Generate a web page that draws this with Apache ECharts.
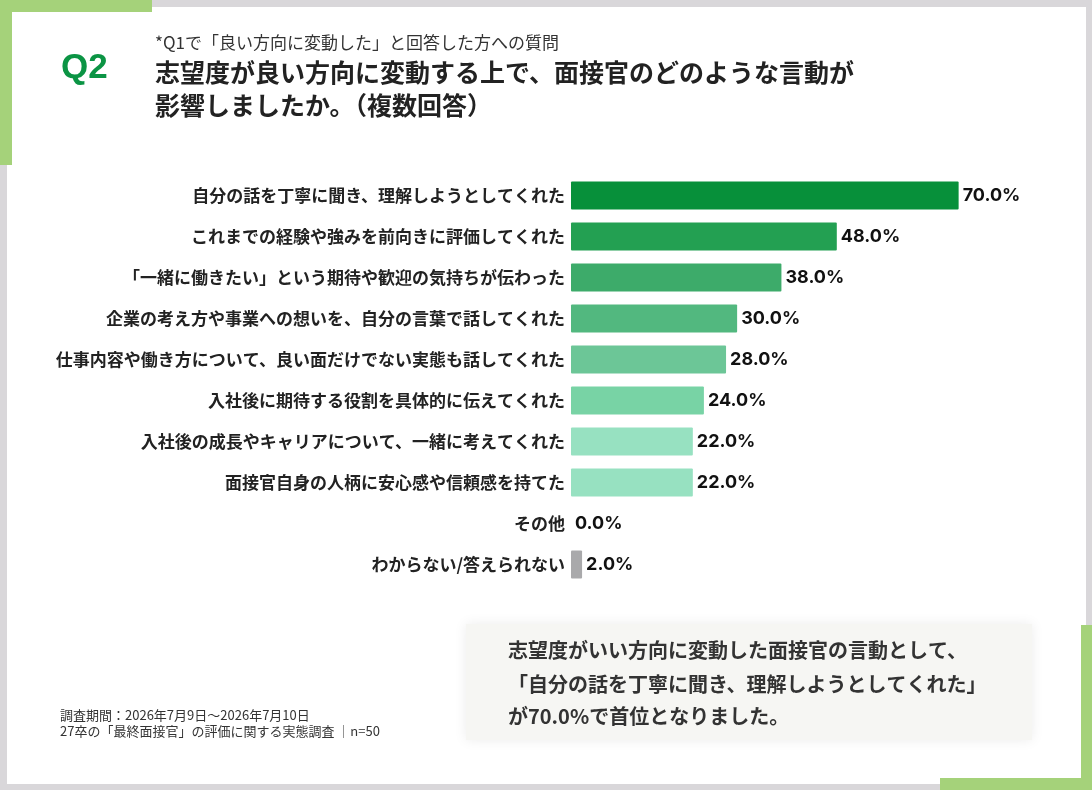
<!DOCTYPE html>
<html>
<head>
<meta charset="utf-8">
<script src="https://cdn.jsdelivr.net/npm/echarts@6/dist/echarts.min.js"></script>
<style>
  html, body { margin: 0; padding: 0; background: #fff; }
  #main { width: 1092px; height: 790px; }
</style>
</head>
<body>
<div id="main"></div>
<script>
// 回答項目
var categories = [
  '自分の話を丁寧に聞き、理解しようとしてくれた',
  'これまでの経験や強みを前向きに評価してくれた',
  '「一緒に働きたい」という期待や歓迎の気持ちが伝わった',
  '企業の考え方や事業への想いを、自分の言葉で話してくれた',
  '仕事内容や働き方について、良い面だけでない実態も話してくれた',
  '入社後に期待する役割を具体的に伝えてくれた',
  '入社後の成長やキャリアについて、一緒に考えてくれた',
  '面接官自身の人柄に安心感や信頼感を持てた',
  'その他',
  'わからない/答えられない'
];
// 割合(%)
var values = [70.0, 48.0, 38.0, 30.0, 28.0, 24.0, 22.0, 22.0, 0.0, 2.0];
// バーの色
var barColors = ['#07903a', '#23a052', '#3dab6a', '#52b87f', '#6cc697', '#78d3a5', '#97e1c1', '#97e1c1', '#97e1c1', '#a9a9ab'];

var CJK = '"Noto Sans CJK JP", sans-serif';

var myChart = echarts.init(document.getElementById('main'));

var option = {
  backgroundColor: '#ffffff',
  animation: false,
  grid: {
    left: 571,
    top: 175,
    width: 443,
    height: 410
  },
  xAxis: {
    type: 'value',
    min: 0,
    max: 80,
    show: false
  },
  yAxis: {
    type: 'category',
    inverse: true,
    data: categories,
    axisLine: { show: false },
    axisTick: { show: false },
    axisLabel: {
      margin: 6,
      fontFamily: CJK,
      fontWeight: 'bold',
      fontSize: 17,
      color: '#222'
    }
  },
  series: [{
    type: 'bar',
    barWidth: 28,
    data: values,
    itemStyle: {
      color: function (p) { return barColors[p.dataIndex]; },
      borderRadius: 1
    },
    label: {
      show: true,
      position: 'right',
      distance: 4,
      fontFamily: 'Inter, sans-serif',
      fontWeight: 'bold',
      fontSize: 18,
      color: '#111',
      formatter: function (p) { return p.value.toFixed(1) + '%'; }
    }
  }],
  graphic: [
    // 外枠
    { type: 'rect', shape: { x: 0, y: 0, width: 1092, height: 7 }, style: { fill: '#d9d7da' }, silent: true },
    { type: 'rect', shape: { x: 0, y: 0, width: 7, height: 790 }, style: { fill: '#d9d7da' }, silent: true },
    { type: 'rect', shape: { x: 1086, y: 0, width: 6, height: 790 }, style: { fill: '#d9d7da' }, silent: true },
    { type: 'rect', shape: { x: 0, y: 784, width: 1092, height: 6 }, style: { fill: '#d9d7da' }, silent: true },
    // 左上の緑
    { type: 'rect', shape: { x: 0, y: 0, width: 152, height: 12 }, style: { fill: '#a5d27a' }, silent: true },
    { type: 'rect', shape: { x: 0, y: 0, width: 12, height: 165 }, style: { fill: '#a5d27a' }, silent: true },
    // 右下の緑
    { type: 'rect', shape: { x: 1081, y: 625, width: 11, height: 165 }, style: { fill: '#a5d27a' }, silent: true },
    { type: 'rect', shape: { x: 940, y: 778, width: 152, height: 12 }, style: { fill: '#a5d27a' }, silent: true },
    // タイトル
    { type: 'text', left: 61, top: 51, style: { text: 'Q2', font: 'bold 35px "Liberation Sans", Arial, sans-serif', fill: '#0b9444' } },
    { type: 'text', left: 155, top: 34, style: { text: '*Q1で「良い方向に変動した」と回答した方への質問', font: '17px ' + CJK, fill: '#333' } },
    { type: 'text', left: 155, top: 60, style: { text: '志望度が良い方向に変動する上で、面接官のどのような言動が', font: 'bold 25px ' + CJK, fill: '#222' } },
    { type: 'text', left: 155, top: 93, style: { text: '影響しましたか。（複数回答）', font: 'bold 25px ' + CJK, fill: '#222' } },
    // 注記
    { type: 'text', left: 60, top: 709, style: { text: '調査期間：2026年7月9日～2026年7月10日', font: '13px ' + CJK, fill: '#333' } },
    { type: 'text', left: 60, top: 725, style: { text: '27卒の「最終面接官」の評価に関する実態調査 │n=50', font: '13px ' + CJK, fill: '#333' } },
    // まとめボックス
    {
      type: 'rect',
      shape: { x: 466, y: 624, width: 566, height: 116 },
      style: { fill: '#f6f6f3', shadowBlur: 12, shadowColor: 'rgba(0,0,0,0.08)' },
      silent: true
    },
    { type: 'text', left: 508, top: 640, style: { text: '志望度がいい方向に変動した面接官の言動として、', font: 'bold 20px ' + CJK, fill: '#333' } },
    { type: 'text', left: 508, top: 674, style: { text: '「自分の話を丁寧に聞き、理解しようとしてくれた」', font: 'bold 20px ' + CJK, fill: '#333' } },
    { type: 'text', left: 508, top: 706, style: { text: 'が70.0%で首位となりました。', font: 'bold 20px ' + CJK, fill: '#333' } }
  ]
};

myChart.setOption(option);
</script>
</body>
</html>
